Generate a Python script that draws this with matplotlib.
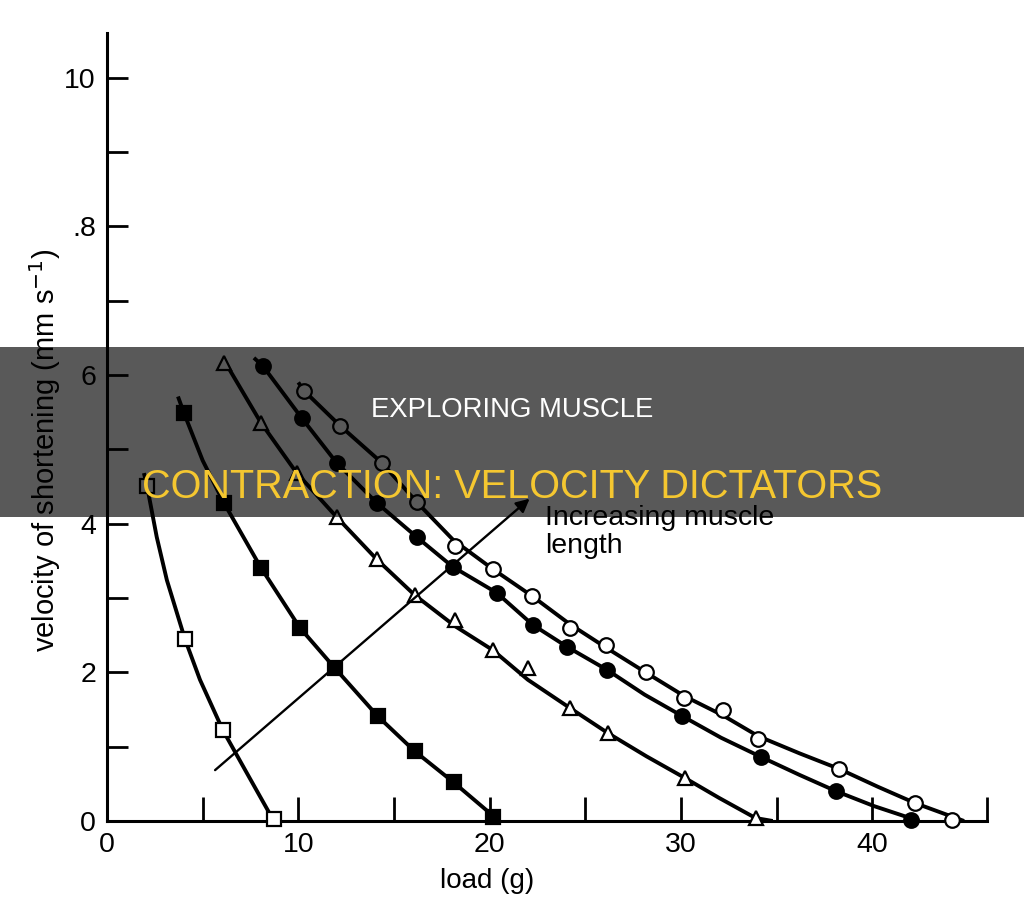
import matplotlib
matplotlib.use("Agg")
import matplotlib.pyplot as plt
from matplotlib.patches import Rectangle

plt.rcParams["font.family"] = ["Liberation Sans", "DejaVu Sans"]

# values: load (g) against velocity of shortening
# open squares (shortest muscle)
osq_x = [2.09, 4.07, 6.06, 8.72]
osq_y = [4.51, 2.45, 1.22, 0.03]
osq_line_x = [1.93, 2.09, 2.6, 3.13, 4.07, 4.86, 6.06, 7.3, 8.72]
osq_line_y = [4.68, 4.51, 3.82, 3.24, 2.45, 1.9, 1.22, 0.65, 0.0]

# filled squares
fsq_x = [4.02, 6.11, 8.04, 10.08, 11.9, 14.15, 16.08, 18.12, 20.2]
fsq_y = [5.49, 4.28, 3.41, 2.6, 2.06, 1.41, 0.94, 0.52, 0.05]
fsq_line_x = [3.71, 4.02, 5.0, 6.11, 8.04, 10.08, 11.9, 14.15, 16.08, 18.12, 20.5]
fsq_line_y = [5.71, 5.49, 4.85, 4.28, 3.41, 2.6, 2.06, 1.41, 0.94, 0.52, 0.0]

# open triangles
tri_x = [6.11, 8.04, 9.92, 12.0, 14.1, 16.08, 18.2, 20.16, 22.0, 24.2, 26.2, 30.2, 33.9]
tri_y = [6.16, 5.36, 4.68, 4.09, 3.52, 3.04, 2.7, 2.3, 2.06, 1.52, 1.18, 0.58, 0.04]
tri_line_x = [6.11, 8.04, 9.92, 12.0, 14.1, 16.08, 18.2, 20.16, 22.0, 24.2, 26.2, 28.2, 30.2, 32.0, 33.9, 34.8]
tri_line_y = [6.2, 5.36, 4.68, 4.09, 3.52, 3.04, 2.62, 2.3, 1.9, 1.52, 1.18, 0.87, 0.58, 0.31, 0.04, 0.0]

# filled circles
fci_x = [8.15, 10.18, 12.0, 14.1, 16.19, 18.07, 20.37, 22.25, 24.07, 26.16, 30.08, 34.2, 38.12, 42.04]
fci_y = [6.12, 5.42, 4.82, 4.28, 3.82, 3.42, 3.07, 2.64, 2.34, 2.03, 1.41, 0.86, 0.40, 0.01]
fci_line_x = [7.68, 8.15, 10.18, 12.0, 14.1, 16.19, 18.07, 20.37, 22.25, 24.07, 26.16, 28.1,
              30.08, 32.1, 34.2, 36.2, 38.12, 40.1, 42.45]
fci_line_y = [6.23, 6.12, 5.42, 4.82, 4.28, 3.82, 3.42, 3.07, 2.64, 2.34, 2.03, 1.70,
              1.41, 1.12, 0.86, 0.62, 0.40, 0.20, 0.0]

# open circles (longest muscle)
oci_x = [10.29, 12.17, 14.36, 16.19, 18.17, 20.16, 22.2, 24.18, 26.1, 28.15, 30.18, 32.2,
         34.05, 38.28, 42.25, 44.18]
oci_y = [5.79, 5.32, 4.82, 4.29, 3.7, 3.39, 3.03, 2.6, 2.37, 2.0, 1.66, 1.49,
         1.1, 0.70, 0.24, 0.01]
oci_line_x = [10.0, 10.29, 12.17, 14.36, 16.19, 18.1, 20.16, 22.2, 24.18, 26.1, 28.15, 30.18,
              32.2, 34.05, 36.2, 38.28, 40.3, 42.25, 44.8]
oci_line_y = [5.9, 5.79, 5.32, 4.82, 4.29, 3.78, 3.39, 3.03, 2.65, 2.33, 2.0, 1.68,
              1.42, 1.14, 0.91, 0.70, 0.46, 0.24, 0.0]

arrow_start = (5.54, 0.66)
arrow_end = (22.2, 4.36)

x_ticks = [0, 10, 20, 30, 40]
x_minor = [5, 15, 25, 35, 46]
y_ticks = [0, 2, 4, 6, 8, 10]
y_tick_labels = ["0", "2", "4", "6", ".8", "10"]
y_minor = [1, 3, 5, 7, 9]

fig = plt.figure(figsize=(10.24, 9.07), dpi=100)
ax = fig.add_axes([107 / 1024, 1 - 821 / 907, 880 / 1024, 788 / 907])
ax.set_xlim(0, 46)
ax.set_ylim(0, 10.6)

lw = 2.8
ms = 10.5
series = [
    (osq_line_x, osq_line_y, osq_x, osq_y, "s", "white"),
    (fsq_line_x, fsq_line_y, fsq_x, fsq_y, "s", "black"),
    (tri_line_x, tri_line_y, tri_x, tri_y, "^", "white"),
    (fci_line_x, fci_line_y, fci_x, fci_y, "o", "black"),
    (oci_line_x, oci_line_y, oci_x, oci_y, "o", "white"),
]
for lx, ly, mx, my, marker, face in series:
    ax.plot(lx, ly, color="black", lw=lw, solid_capstyle="butt", clip_on=False, zorder=2)
    ax.plot(mx, my, linestyle="none", marker=marker, markersize=ms, markerfacecolor=face,
            markeredgecolor="black", markeredgewidth=1.6, clip_on=False, zorder=3)

ax.annotate("", xy=arrow_end, xytext=arrow_start,
            arrowprops=dict(arrowstyle="-|>", lw=1.7, color="black", mutation_scale=20))
ax.text(22.92, 4.25, "Increasing muscle\nlength", fontsize=20.5,
        va="top", ha="left", linespacing=1.12)

for side in ("top", "right"):
    ax.spines[side].set_visible(False)
for side in ("left", "bottom"):
    ax.spines[side].set_linewidth(2.2)

ax.set_xticks(x_ticks)
ax.set_xticks(x_minor, minor=True)
ax.set_yticks(y_ticks)
ax.set_yticklabels(y_tick_labels)
ax.set_yticks(y_minor, minor=True)
ax.tick_params(which="both", direction="in", width=2, labelsize=20.5)
ax.tick_params(axis="x", which="both", length=17, pad=8)
ax.tick_params(axis="y", which="both", length=15, pad=8)

ax.set_xlabel("load (g)", fontsize=20)
ax.xaxis.set_label_coords(0.432, -0.06)
ax.set_ylabel("velocity of shortening (mm s$^{-1}$)", fontsize=21)
ax.yaxis.set_label_coords(-0.05, 0.47)

# dark caption band over the figure
fig.add_artist(Rectangle((0, 1 - 517 / 907), 1, 170 / 907, transform=fig.transFigure,
                         facecolor="black", alpha=0.65, edgecolor="none", zorder=10))
fig.text(0.5, 1 - 410 / 907, "EXPLORING MUSCLE", color="white", fontsize=19.8,
         ha="center", va="center", zorder=11)
fig.text(0.5, 1 - 487 / 907, "CONTRACTION: VELOCITY DICTATORS", color="#F5C730",
         fontsize=28.5, ha="center", va="center", zorder=11)

fig.savefig("out.png", dpi=100)
